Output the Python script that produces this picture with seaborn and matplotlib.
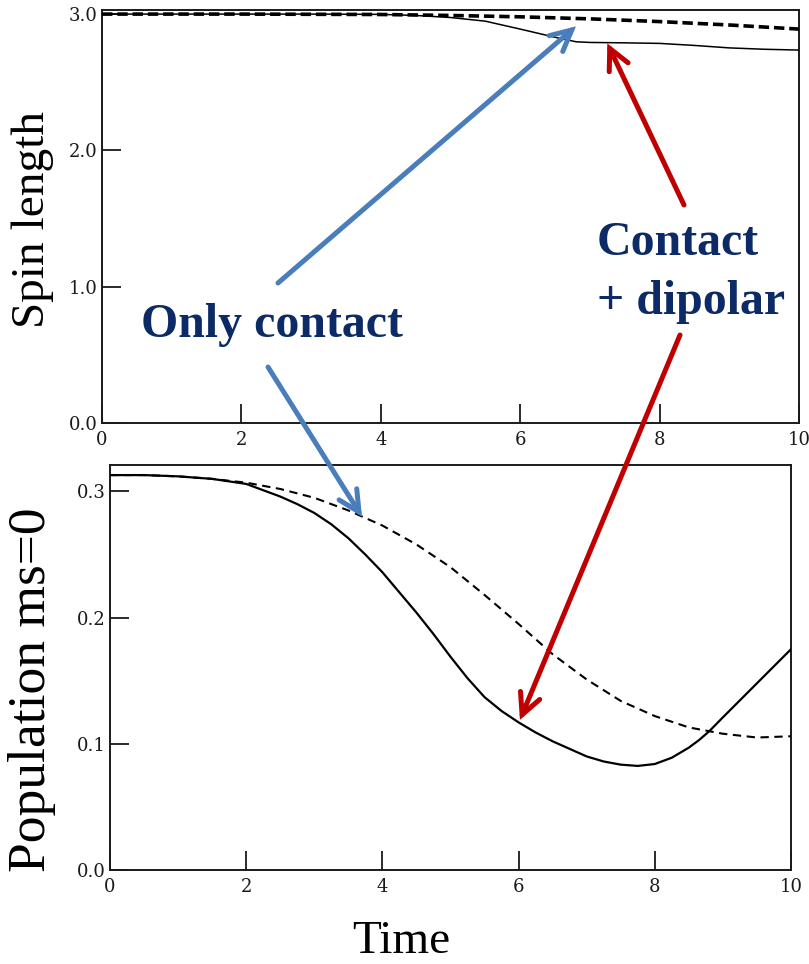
import numpy as np
import pandas as pd
import seaborn as sns
import matplotlib
matplotlib.use("Agg")
import matplotlib.pyplot as plt

# ---- data -------------------------------------------------------------
# Spin length vs time
spin_t_contact = [0, 2, 4, 5, 6, 7, 8, 9, 10]
spin_contact = [3.0, 3.0, 2.997, 2.99, 2.98, 2.965, 2.945, 2.92, 2.89]

spin_t_dipolar = [0, 2, 3, 4, 4.5, 5, 5.5, 6, 6.5, 6.8, 7, 7.5, 8, 8.5, 9, 9.5, 10]
spin_dipolar = [3.0, 3.0, 3.0, 2.998, 2.99, 2.975, 2.948, 2.89, 2.83, 2.797,
                2.792, 2.789, 2.785, 2.77, 2.752, 2.742, 2.736]

# Population of ms=0 vs time
pop_t = [0, 0.5, 1, 1.5, 2, 2.5, 3, 3.5, 4, 4.5, 5, 5.5, 6, 6.5, 7, 7.5, 8,
         8.5, 9, 9.5, 10]
pop_contact = [0.313, 0.313, 0.312, 0.310, 0.307, 0.302, 0.295, 0.285, 0.273,
               0.258, 0.240, 0.218, 0.195, 0.171, 0.151, 0.134, 0.122, 0.113,
               0.108, 0.105, 0.106]

pop_t_dipolar = [0, 0.5, 1, 1.5, 2, 2.5, 2.75, 3, 3.25, 3.5, 3.75, 4, 4.25,
                 4.5, 4.75, 5, 5.25, 5.5, 5.75, 6, 6.25, 6.5, 6.75, 7, 7.25,
                 7.5, 7.75, 8, 8.25, 8.5, 8.65, 8.8, 9, 9.5, 10]
pop_dipolar = [0.313, 0.313, 0.312, 0.310, 0.306, 0.296, 0.290, 0.283, 0.274,
               0.263, 0.250, 0.236, 0.220, 0.204, 0.187, 0.169, 0.152, 0.137,
               0.126, 0.117, 0.109, 0.102, 0.096, 0.090, 0.086, 0.0835, 0.0825,
               0.084, 0.089, 0.097, 0.103, 0.110, 0.121, 0.148, 0.175]

x_ticks = [0, 2, 4, 6, 8, 10]
spin_ticks = [0.0, 1.0, 2.0, 3.0]
pop_ticks = [0.0, 0.1, 0.2, 0.3]

# ---- style ------------------------------------------------------------
sns.set_style("ticks")
plt.rcParams["lines.scale_dashes"] = False
serif = ["Liberation Serif", "DejaVu Serif"]
tick_font = ["DejaVu Serif"]
navy = "#0B2A66"
blue = "#4A7EBB"
red = "#C00000"

W, H = 809, 964
fig = plt.figure(figsize=(W / 100, H / 100), dpi=100)

def px_axes(left, top, right, bottom):
    return fig.add_axes([left / W, 1 - bottom / H, (right - left) / W, (bottom - top) / H])

ax1 = px_axes(102, 10, 799, 423)
ax2 = px_axes(110, 465, 791, 870)

spin_c = pd.DataFrame({"t": spin_t_contact, "v": spin_contact})
spin_d = pd.DataFrame({"t": spin_t_dipolar, "v": spin_dipolar})
pop_c = pd.DataFrame({"t": pop_t, "v": pop_contact})
pop_d = pd.DataFrame({"t": pop_t_dipolar, "v": pop_dipolar})

sns.lineplot(data=spin_c, x="t", y="v", ax=ax1, color="black", lw=2.6,
             linestyle="--", zorder=3)
ax1.lines[-1].set_dashes([7.5, 3.5])
sns.lineplot(data=spin_d, x="t", y="v", ax=ax1, color="black", lw=1.1, zorder=3)

sns.lineplot(data=pop_c, x="t", y="v", ax=ax2, color="black", lw=1.5,
             linestyle="--", zorder=3)
ax2.lines[-1].set_dashes([6.0, 4.0])
sns.lineplot(data=pop_d, x="t", y="v", ax=ax2, color="black", lw=1.6, zorder=3)
for ln in ax1.lines + ax2.lines:
    ln.set_solid_joinstyle("round")
    ln.set_dash_joinstyle("round")

ax1.set_xlim(0, 10)
ax1.set_ylim(0, 3.03)
ax2.set_xlim(0, 10)
ax2.set_ylim(0, 0.321)

for ax, yt in ((ax1, spin_ticks), (ax2, pop_ticks)):
    ax.set_xticks(x_ticks)
    ax.set_xticklabels([str(v) for v in x_ticks])
    ax.set_yticks(yt)
    ax.set_yticklabels([f"{v:.1f}" for v in yt])
    ax.tick_params(direction="in", length=14, width=1.3, color="#1a1a1a",
                   labelsize=13, labelcolor="#1a1a1a")
    ax.tick_params(axis="x", pad=6)
    ax.tick_params(axis="y", pad=3)
    for lab in ax.get_xticklabels() + ax.get_yticklabels():
        lab.set_family(tick_font)
    for sp in ax.spines.values():
        sp.set_visible(True)
        sp.set_linewidth(1.4)
        sp.set_color("#1a1a1a")
    ax.set_xlabel("")
    ax.set_ylabel("")

ax1.set_ylabel("Spin length", fontsize=34, family=serif, va="center", color="black")
ax1.yaxis.set_label_coords((33 - 102) / 697, (423 - 220) / 413)
ax2.set_ylabel("Population ms=0", fontsize=38.5, family=serif, va="center", color="black")
ax2.yaxis.set_label_coords((32 - 110) / 681, (870 - 690) / 405)
ax2.set_xlabel("Time", fontsize=34, family=serif, va="center", color="black")
ax2.xaxis.set_label_coords((401 - 110) / 681, (870 - 942) / 405)

# ---- annotations ------------------------------------------------------
def arrow(ax, xy, tail, color):
    ax.annotate("", xy=xy, xycoords="data",
                xytext=(tail[0], H - tail[1]), textcoords="figure pixels",
                arrowprops=dict(arrowstyle="->,head_length=1.5,head_width=0.75",
                                color=color, lw=3.6, shrinkA=0, shrinkB=0,
                                capstyle="round", joinstyle="miter"),
                annotation_clip=False, zorder=5)

arrow(ax1, (6.8, 2.91), (278, 283), blue)
arrow(ax2, (3.70, 0.280), (268, 367), blue)
arrow(ax1, (7.25, 2.785), (684, 205), red)
arrow(ax2, (6.02, 0.119), (680, 335), red)

fig.text(272 / W, 1 - 325 / H, "Only contact", ha="center", va="center",
         fontsize=34.5, fontweight="bold", family=serif, color=navy, zorder=6)
fig.text(597 / W, 1 - 243 / H, "Contact", ha="left", va="center",
         fontsize=34.5, fontweight="bold", family=serif, color=navy, zorder=6)
fig.text(597 / W, 1 - 302 / H, "+ dipolar", ha="left", va="center",
         fontsize=34.5, fontweight="bold", family=serif, color=navy, zorder=6)

fig.savefig("out.png", dpi=100)
